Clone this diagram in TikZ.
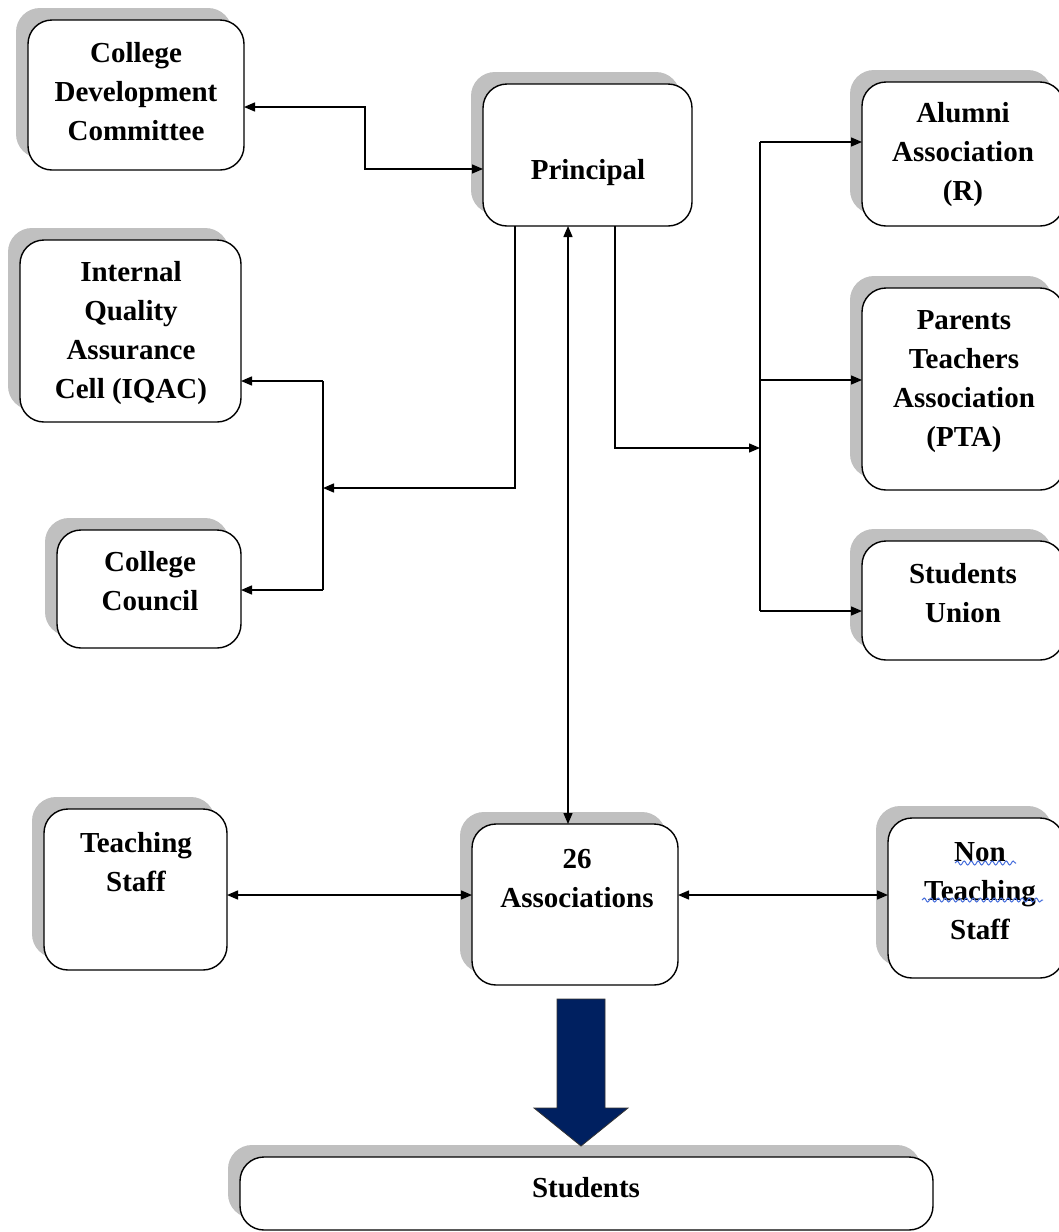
\documentclass[tikz,border=0pt]{standalone}
\usepackage{fontspec}
\setmainfont{Liberation Serif}
\usetikzlibrary{arrows.meta,shadows,decorations.pathmorphing}
\definecolor{shadowgray}{RGB}{192,192,192}
\definecolor{navyarrow}{RGB}{0,32,96}
\definecolor{spellblue}{RGB}{70,110,220}
\begin{document}
\begin{tikzpicture}[x=1pt,y=-1pt,
  >={Triangle[length=11pt,width=9pt]},
  box/.style={draw=black, line width=1.4pt, rounded corners=24pt, fill=white,
    inner sep=0pt, outer sep=0pt,
    drop shadow={shadow xshift=-12pt, shadow yshift=12pt, fill=shadowgray, opacity=1}},
  lbl/.style={font=\fontsize{29}{39}\selectfont\bfseries, align=center, inner sep=0pt},
  conn/.style={line width=1.4pt, draw=black},
  squiggle/.style={draw=spellblue, line width=1pt, decorate,
    decoration={snake, amplitude=2pt, segment length=7pt}}
]
\fill[white] (0,0) rectangle (1058,1232);
\useasboundingbox (0,0) rectangle (1058,1232);

% boxes
\node[box, minimum width=216pt, minimum height=150pt] (cdc) at (136,95) {};
\node[box, minimum width=209pt, minimum height=142pt] (prin) at (587.5,155) {};
\node[box, minimum width=202pt, minimum height=144pt] (alum) at (963,154) {};
\node[box, minimum width=221pt, minimum height=182pt] (iqac) at (130.5,331) {};
\node[box, minimum width=202pt, minimum height=202pt] (pta) at (963,389) {};
\node[box, minimum width=184pt, minimum height=118pt] (cc) at (149,589) {};
\node[box, minimum width=202pt, minimum height=119pt] (su) at (963,600.5) {};
\node[box, minimum width=183pt, minimum height=161pt] (ts) at (135.5,889.5) {};
\node[box, minimum width=206pt, minimum height=161pt] (assoc) at (575,904.5) {};
\node[box, minimum width=176pt, minimum height=160pt] (nts) at (976,898) {};
\node[box, minimum width=693pt, minimum height=73pt] (stu) at (586.5,1193.5) {};

% labels
\node[lbl] (tcdc) at (136,92) {College\\Development\\Committee};
\node[lbl] (tprin) at (588,173) {Principal};
\node[lbl] (talum) at (963,155) {Alumni\\Association\\(R)};
\node[lbl] (tiqac) at (131,333) {Internal\\Quality\\Assurance\\Cell (IQAC)};
\node[lbl] (tpta) at (964,381.5) {Parents\\Teachers\\Association\\(PTA)};
\node[lbl] (tcc) at (150,581.5) {College\\Council};
\node[lbl] (tsu) at (963,593.5) {Students\\Union};
\node[lbl] (tts) at (136,862) {Teaching\\Staff};
\node[lbl] (tassoc) at (577,878.5) {26\\Associations};
\node[lbl] (tnts) at (980,891) {Non\\Teaching\\Staff};
\node[lbl] (tstu) at (586,1188) {Students};

% spell-check squiggles
\draw[squiggle] (955,863) -- (1016,863);
\draw[squiggle] (922,900) -- (1043,900);

% Principal <-> College Development Committee
\coordinate (c1) at (365,107);
\coordinate (c2) at (365,169);
\draw[conn,<->] (cdc.east |- c1) -- (c1) -- (c2) -- (prin.west |- c2);

% Principal -> IQAC / College Council
\coordinate (d1) at (515,488);
\coordinate (lb) at (323,488);
\coordinate (lt) at (323,381);
\coordinate (lbt) at (323,590);
\draw[conn,->] (prin.south -| d1) -- (d1) -- (lb);
\draw[conn] (lt) -- (lbt);
\draw[conn,->] (lt) -- (iqac.east |- lt);
\draw[conn,->] (lbt) -- (cc.east |- lbt);

% Principal -> Alumni / PTA / Students Union
\coordinate (e1) at (615,448);
\coordinate (rb) at (760,448);
\coordinate (rt) at (760,142);
\coordinate (rm) at (760,380);
\coordinate (rbt) at (760,611);
\draw[conn,->] (prin.south -| e1) -- (e1) -- (rb);
\draw[conn] (rt) -- (rbt);
\draw[conn,->] (rt) -- (alum.west |- rt);
\draw[conn,->] (rm) -- (pta.west |- rm);
\draw[conn,->] (rbt) -- (su.west |- rbt);

% Principal <-> 26 Associations
\coordinate (v) at (568,0);
\draw[conn,<->] (prin.south -| v) -- (assoc.north -| v);

% Staff <-> Associations
\coordinate (h) at (0,895);
\draw[conn,<->] (ts.east |- h) -- (assoc.west |- h);
\draw[conn,<->] (assoc.east |- h) -- (nts.west |- h);

% big block arrow to Students
\filldraw[fill=navyarrow, draw=black!80, line width=0.8pt, line join=miter]
  (557,999) -- (605,999) -- (605,1108) -- (628,1108) -- (581,1146)
  -- (534,1108) -- (557,1108) -- cycle;
\end{tikzpicture}
\end{document}
